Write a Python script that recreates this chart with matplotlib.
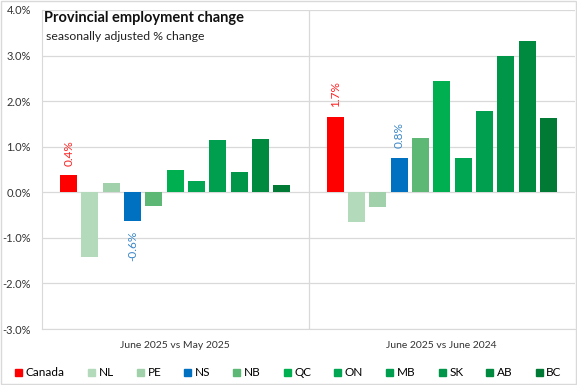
"""Provincial employment change, two comparison periods side by side."""
import matplotlib
matplotlib.use("Agg")
import matplotlib.pyplot as plt
from matplotlib.patches import Patch, Rectangle
import numpy as np

plt.rcParams["font.family"] = ["Lato", "DejaVu Sans"]

regions = ["Canada", "NL", "PE", "NS", "NB", "QC", "ON", "MB", "SK", "AB", "BC"]
periods = ["June 2025 vs May 2025", "June 2025 vs June 2024"]
monthly = [0.37, -1.42, 0.20, -0.64, -0.29, 0.48, 0.25, 1.14, 0.45, 1.17, 0.16]
yearly = [1.66, -0.65, -0.33, 0.75, 1.20, 2.45, 0.75, 1.78, 3.00, 3.33, 1.63]
labelled = {"Canada": "#ff2020", "NS": "#3a86c8"}

colors = ["#ff0000", "#b2dabb", "#a0d1aa", "#0070c0", "#5cb874", "#00b050",
          "#00a651", "#009e4f", "#00964a", "#008a40", "#007a35"]

fig = plt.figure(figsize=(5.77, 3.85), dpi=100)
ax = fig.add_axes([42 / 577, 56 / 385, 533 / 577, 319 / 385])

pitch, width = 0.08, 0.064
offs = (np.arange(len(regions)) - 5) * pitch
for g, vals in enumerate([monthly, yearly]):
    for i, v in enumerate(vals):
        ax.bar(g + offs[i], v, width=width, color=colors[i], zorder=2)
        if regions[i] in labelled:
            ax.annotate(f"{v:.1f}%", (g + offs[i], v), xytext=(0, 7 if v > 0 else -7),
                        textcoords="offset points", rotation=90, ha="center",
                        va="bottom" if v > 0 else "top", fontsize=8.5,
                        color=labelled[regions[i]])

ax.set_xlim(-0.5, 1.5)
ax.set_ylim(-3, 4)
ax.set_yticks(np.arange(-3, 5, 1))
ax.set_yticklabels([f"{t:.1f}%" for t in np.arange(-3, 5, 1)], fontsize=8, color="#333333")
ax.grid(axis="y", color="#d9d9d9", lw=0.9, zorder=0)
ax.axvline(0.5, color="#d9d9d9", lw=0.9, zorder=0)
ax.set_xticks([0, 1])
ax.set_xticklabels(periods, fontsize=7.5, color="#333333")
ax.tick_params(axis="x", length=0, pad=9)
ax.tick_params(axis="y", length=0, pad=8)
for s in ["top", "right"]:
    ax.spines[s].set_visible(False)
for s in ["left", "bottom"]:
    ax.spines[s].set_color("#d9d9d9")

fig.text(44 / 577, 1 - 18 / 385, "Provincial employment change", fontsize=10.5,
         fontweight="bold", va="center", color="#111111")
fig.text(46 / 577, 1 - 36 / 385, "seasonally adjusted % change", fontsize=8.8,
         va="center", color="#222222")

handles = [Patch(color=c) for c in colors]
fig.legend(handles, regions, loc="center", bbox_to_anchor=(0.5, 1 - 373 / 385), ncol=11,
           frameon=False, fontsize=8.5, handlelength=0.6, handleheight=0.6,
           handletextpad=0.3, columnspacing=1.95)

fig.add_artist(Rectangle((0.001, 0.002), 0.997, 0.996, transform=fig.transFigure,
                         fill=False, ec="#d9d9d9", lw=1))
fig.savefig("out.png", dpi=100)
